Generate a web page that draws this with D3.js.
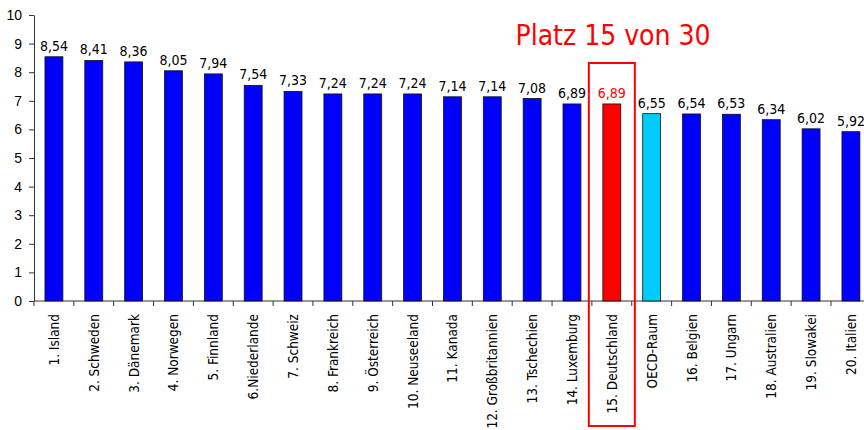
<!DOCTYPE html>
<html>
<head>
<meta charset="utf-8">
<script src="https://cdn.jsdelivr.net/npm/d3@7"></script>
<style>
  body { margin: 0; background: #fff; }
  svg { display: block; font-family: "DejaVu Sans Condensed", "Liberation Sans Narrow", sans-serif; }
</style>
</head>
<body>
<div id="chart"></div>
<script>
// Kategorien und Werte
const countries = ["1. Island", "2. Schweden", "3. Dänemark", "4. Norwegen", "5. Finnland",
  "6.Niederlande", "7. Schweiz", "8. Frankreich", "9. Österreich", "10. Neuseeland",
  "11. Kanada", "12. Großbritannien", "13. Tschechien", "14. Luxemburg", "15. Deutschland",
  "OECD-Raum", "16. Belgien", "17. Ungarn", "18. Australien", "19. Slowakei", "20. Italien"];
const values = [8.54, 8.41, 8.36, 8.05, 7.94, 7.54, 7.33, 7.24, 7.24, 7.24,
  7.14, 7.14, 7.08, 6.89, 6.89, 6.55, 6.54, 6.53, 6.34, 6.02, 5.92];
const yTicks = [0, 1, 2, 3, 4, 5, 6, 7, 8, 9, 10];
const highlight = "15. Deutschland";
const average = "OECD-Raum";

const width = 864, height = 430;
const x0 = 34, y0 = 301, yTop = 15, band = 39.85;

const svg = d3.select("#chart").append("svg")
  .attr("width", width).attr("height", height);

const x = d3.scaleBand()
  .domain(countries)
  .range([x0, x0 + band * countries.length])
  .paddingInner(0.55).paddingOuter(0.275);

const y = d3.scaleLinear().domain([0, 10]).range([y0, yTop]);

// Y-Achse
const yAxis = svg.append("g")
  .attr("transform", `translate(${x0},0)`)
  .call(d3.axisLeft(y).tickValues(yTicks).tickSize(5).tickSizeOuter(0).tickPadding(7));
yAxis.select(".domain").attr("stroke", "#333");
yAxis.selectAll(".tick line").attr("stroke", "#333");
yAxis.selectAll("text").attr("font-size", 14).attr("fill", "#000");

// X-Achse mit Strichen an den Kategoriegrenzen
svg.append("line")
  .attr("x1", x0).attr("x2", x0 + band * countries.length)
  .attr("y1", y0).attr("y2", y0).attr("stroke", "#333");
svg.selectAll(".xtick")
  .data(d3.range(countries.length + 1))
  .enter().append("line")
  .attr("x1", i => x0 + i * band).attr("x2", i => x0 + i * band)
  .attr("y1", y0).attr("y2", y0 + 5).attr("stroke", "#333");

// Balken
svg.selectAll(".bar")
  .data(countries)
  .enter().append("rect")
  .attr("x", d => x(d))
  .attr("y", (d, i) => y(values[i]))
  .attr("width", x.bandwidth())
  .attr("height", (d, i) => y(0) - y(values[i]))
  .attr("fill", d => d === highlight ? "#ff0000" : d === average ? "#00ccff" : "#0000ff")
  .attr("stroke", "#111")
  .attr("stroke-width", 0.8);

// Wertebeschriftungen
svg.selectAll(".val")
  .data(countries)
  .enter().append("text")
  .attr("x", d => x(d) + x.bandwidth() / 2)
  .attr("y", (d, i) => y(values[i]) - 6)
  .attr("text-anchor", "middle")
  .attr("font-size", 14)
  .attr("fill", d => d === highlight ? "#ff0000" : "#000")
  .text((d, i) => d3.format(".2f")(values[i]).replace(".", ","));

// Kategorienamen, gedreht
svg.selectAll(".lab")
  .data(countries)
  .enter().append("text")
  .attr("transform", d => `translate(${x(d) + x.bandwidth() / 2 + 5},${y0 + 13}) rotate(-90)`)
  .attr("text-anchor", "end")
  .attr("font-size", 13.5)
  .attr("fill", "#000")
  .text(d => d);

// Rahmen um Deutschland
const hx = x(highlight) + x.bandwidth() / 2;
svg.append("rect")
  .attr("x", hx - 23).attr("y", 63)
  .attr("width", 46).attr("height", 363)
  .attr("fill", "none").attr("stroke", "#ff0000").attr("stroke-width", 2);

// Titel
svg.append("text")
  .attr("x", 613).attr("y", 45)
  .attr("text-anchor", "middle")
  .attr("font-size", 28)
  .attr("fill", "#ff0000")
  .text("Platz 15 von 30");
</script>
</body>
</html>
